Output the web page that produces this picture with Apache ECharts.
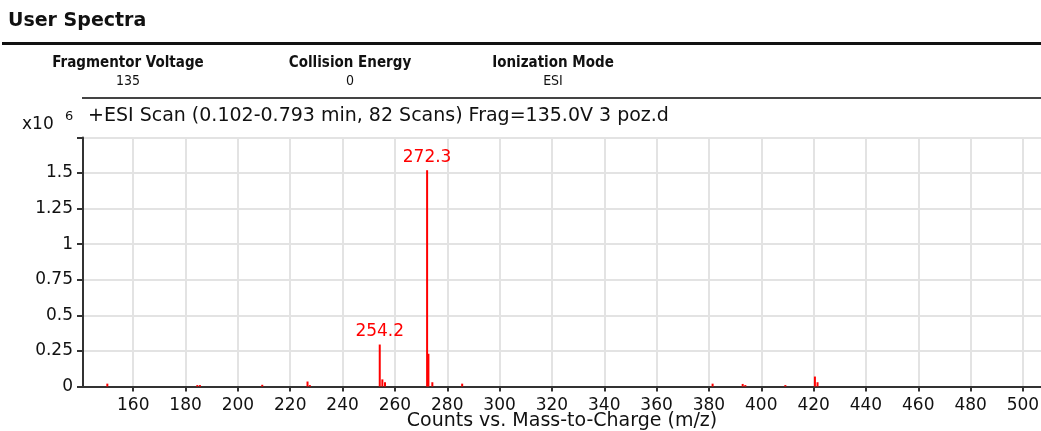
<!DOCTYPE html>
<html><head><meta charset="utf-8">
<script src="https://cdn.jsdelivr.net/npm/echarts@6/dist/echarts.min.js"></script>
<style>html,body{margin:0;padding:0;background:#fff}#c{width:1041px;height:431px}</style>
</head><body><div id="c"></div>
<script>
// m/z positions of the peaks
const mz = [150.1, 184.5, 185.5, 209.3, 226.6, 227.5, 254.2, 255.2, 256.2, 272.3, 272.8, 274.3, 285.7, 381.4, 392.9, 393.9, 409.2, 420.5, 421.5];
// intensities, x10^6 counts
const counts = [0.02, 0.01, 0.01, 0.012, 0.035, 0.01, 0.295, 0.05, 0.03, 1.52, 0.23, 0.03, 0.02, 0.02, 0.018, 0.01, 0.01, 0.07, 0.03];
// peak labels (by index into mz)
const peakLabels = {6: '254.2', 9: '272.3'};
const yTicks = ['0', '0.25', '0.5', '0.75', '1', '1.25', '1.5', ''];
const xTicks = [160, 180, 200, 220, 240, 260, 280, 300, 320, 340, 360, 380, 400, 420, 440, 460, 480, 500];
const xTitle = 'Counts vs. Mass-to-Charge (m/z)';
const scanTitle = '+ESI Scan (0.102-0.793 min, 82 Scans) Frag=135.0V 3 poz.d';
const params = [['Fragmentor Voltage', '135'], ['Collision Energy', '0'], ['Ionization Mode', 'ESI']];

const chart = echarts.init(document.getElementById('c'), null, {renderer: 'canvas'});
const F = 'DejaVu Sans, sans-serif';
const FC = 'DejaVu Sans Condensed, sans-serif';
const data = mz.map((m, i) => ({
  value: [m, counts[i]],
  label: peakLabels[i] ? {show: true, formatter: peakLabels[i]} : {show: false}
}));
const paramCenters = [128, 350, 553];
const graphics = [
  {type: 'text', left: 8, top: 12, style: {text: 'User Spectra', font: 'bold 19px ' + F, fill: '#111'}},
  {type: 'rect', shape: {x: 2, y: 42, width: 1039, height: 3}, style: {fill: '#111'}},
  {type: 'rect', shape: {x: 82, y: 97, width: 959, height: 2}, style: {fill: '#444'}},
  {type: 'text', x: 88, y: 116, style: {text: scanTitle, font: '19px ' + F, fill: '#111', textVerticalAlign: 'middle'}},
  {type: 'text', x: 22, y: 125, style: {text: 'x10', font: '17px ' + F, fill: '#111', textVerticalAlign: 'middle'}},
  {type: 'text', x: 65, y: 117, style: {text: '6', font: '13px ' + F, fill: '#111', textVerticalAlign: 'middle'}}
];
params.forEach((p, i) => {
  graphics.push({type: 'text', x: paramCenters[i], y: 63, style: {text: p[0], font: 'bold 15px ' + FC, fill: '#111', textAlign: 'center', textVerticalAlign: 'middle'}});
  graphics.push({type: 'text', x: paramCenters[i], y: 81, style: {text: p[1], font: '14px ' + FC, fill: '#111', textAlign: 'center', textVerticalAlign: 'middle'}});
});
chart.setOption({
  animation: false,
  grid: {left: 83, right: 0, top: 137.5, bottom: 44.5, containLabel: false, outerBoundsMode: 'none'},
  xAxis: {
    type: 'value', min: 140.8, max: 506.9, interval: 20,
    name: xTitle, nameLocation: 'middle', nameGap: 25, nameMoveOverlap: false,
    nameTextStyle: {fontFamily: F, fontSize: 19, color: '#111', verticalAlign: 'top', lineHeight: 20},
    axisLine: {show: true, onZero: false, lineStyle: {color: '#333', width: 2}},
    axisTick: {show: true, inside: false, length: 5, lineStyle: {color: '#333', width: 2}, customValues: xTicks},
    axisLabel: {fontFamily: F, fontSize: 17, color: '#111', margin: 11, customValues: xTicks},
    splitLine: {show: true, lineStyle: {color: '#e3e3e3', width: 2}}
  },
  yAxis: {
    type: 'value', min: 0, max: 1.75, interval: 0.25,
    axisLine: {show: true, lineStyle: {color: '#333', width: 2}},
    axisTick: {show: true, length: 6, lineStyle: {color: '#333', width: 2}},
    axisLabel: {fontFamily: F, fontSize: 17, color: '#111', margin: 10,
      formatter: (v) => yTicks[Math.round(v / 0.25)] ?? ''},
    splitLine: {show: true, lineStyle: {color: '#e3e3e3', width: 2}}
  },
  series: [{
    type: 'bar', barWidth: 2, data: data,
    itemStyle: {color: '#ff0000'},
    label: {position: 'top', distance: 4, color: '#ff0000', fontFamily: F, fontSize: 17}
  }],
  graphic: graphics
});
</script></body></html>
